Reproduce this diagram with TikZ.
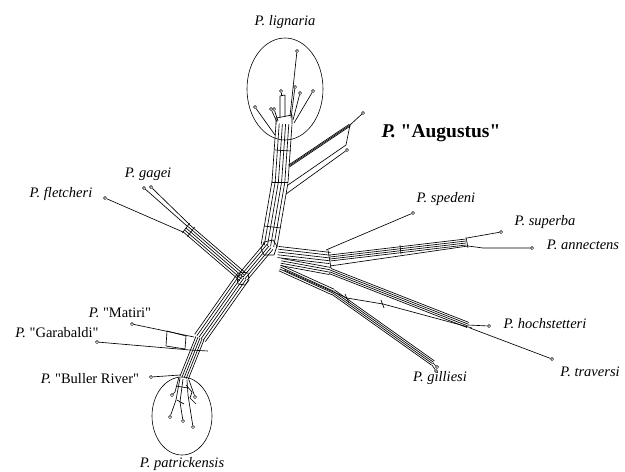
\documentclass[tikz,border=0pt]{standalone}
\usepackage{fontspec}
\setmainfont{Liberation Serif}
\usepackage{tikz}
\usetikzlibrary{calc,shapes.geometric}

% parallel strands between two named points: from, to, count, gap (pt)
\newcommand{\strands}[4]{%
  \foreach \k in {1,...,#3}{%
    \pgfmathsetmacro{\off}{(\k-(#3+1)/2)*#4}%
    \draw[net] ($(#1)!\off pt!90:(#2)$) -- ($(#2)!\off pt!-90:(#1)$);
  }}
\newcommand{\qq}{\textquotedbl}

\begin{document}
\begin{tikzpicture}[x=1pt,y=-1pt,
    net/.style={line width=0.65pt,line join=round},
    tip/.style={circle,draw,fill=white,inner sep=0pt,minimum size=3.2pt,line width=0.5pt},
    lab/.style={font=\fontsize{14.5}{16}\selectfont},
    clade/.style={draw,ellipse,line width=0.6pt,inner sep=0pt}
  ]
  \useasboundingbox (0,0) rectangle (625,472);

  % clade outlines
  \node[clade,minimum width=76pt,minimum height=102pt] (ligring) at (285,89) {};
  \node[clade,minimum width=60pt,minimum height=78pt] (patring) at (182,416) {};

  % junctions
  \coordinate (hubA) at (269,246);
  \coordinate (hubB) at (243,277);
  \coordinate (trunkMid) at (280,182);
  \coordinate (trunkTop) at (284,124);
  \coordinate (a1) at (289,166);
  \coordinate (a3) at (350,125);
  \coordinate (a4) at (346,145);
  \coordinate (fbox) at (186,228);
  \coordinate (mj) at (200,338);
  \coordinate (bj) at (184,378);
  \coordinate (r0) at (278,252);
  \coordinate (r1) at (330,258);
  \coordinate (r2) at (466,242);
  \coordinate (h0) at (281,262);
  \coordinate (h1) at (330,271);
  \coordinate (h2) at (468,325);
  \coordinate (g0) at (280,268);
  \coordinate (g1) at (333,292);
  \coordinate (g2) at (433,363);

  % tips
  \node[tip] (lg1) at (297,51) {};
  \node[tip] (lg2) at (281,91) {};
  \node[tip] (lg3) at (295,87) {};
  \node[tip] (lg4) at (300,93) {};
  \node[tip] (lg5) at (313,91) {};
  \node[tip] (lg6) at (255,107) {};
  \node[tip] (lg7) at (271,109) {};
  \node[tip] (lg8) at (274,109) {};
  \node[tip] (au1) at (363,113) {};
  \node[tip] (au2) at (347,150) {};
  \node[tip] (sp) at (413,213) {};
  \node[tip] (su) at (501,232) {};
  \node[tip] (an) at (532,248) {};
  \node[tip] (ho) at (489,326) {};
  \node[tip] (tr) at (552,359) {};
  \node[tip] (gl1) at (437,367) {};
  \node[tip] (gl2) at (436,371) {};
  \node[tip] (fl) at (105,198) {};
  \node[tip] (ga1) at (144,188) {};
  \node[tip] (ga2) at (151,187) {};
  \node[tip] (mt) at (132,324) {};
  \node[tip] (gb) at (97,342) {};
  \node[tip] (br) at (151,377) {};
  \node[tip] (pt1) at (172,395) {};
  \node[tip] (pt2) at (195,397) {};
  \node[tip] (pt3) at (170,417) {};
  \node[tip] (pt4) at (183,421) {};
  \node[tip] (pt5) at (193,427) {};

  % labels
  \node[lab] (lignaria) at (285,22) {\textit{P. lignaria}};
  \node[font=\fontsize{19.5}{22}\selectfont\bfseries] (augustus) at (441,133) {\textit{P.} \qq Augustus\qq};
  \node[lab] (spedeni) at (446,199) {\textit{P. spedeni}};
  \node[lab] (superba) at (545,222) {\textit{P. superba}};
  \node[lab] (annectens) at (583,245) {\textit{P. annectens}};
  \node[lab] (hochstetteri) at (545,324) {\textit{P. hochstetteri}};
  \node[lab] (traversi) at (590,372) {\textit{P. traversi}};
  \node[lab] (gilliesi) at (440,378) {\textit{P. gilliesi}};
  \node[lab] (gagei) at (148,174) {\textit{P. gagei}};
  \node[lab] (fletcheri) at (61,194) {\textit{P. fletcheri}};
  \node[lab] (matiri) at (120,313) {\textit{P.} \qq Matiri\qq};
  \node[lab] (garabaldi) at (57,333) {\textit{P.} \qq Garabaldi\qq};
  \node[lab] (buller) at (90,379) {\textit{P.} \qq Buller River\qq};
  \node[lab] (patrickensis) at (182,464) {\textit{P. patrickensis}};

  % centre
  \draw[net] (261,249) -- (264,242) -- (273,240) -- (277,246) -- (274,255) -- (264,255) -- cycle;
  \draw[net] (237,277) -- (241,272) -- (248,273) -- (249,280) -- (245,285) -- (238,284) -- cycle;
  \strands{hubA}{hubB}{5}{2.6}

  % upper trunk and lignaria
  \strands{hubA}{trunkMid}{6}{3.2}
  \strands{trunkMid}{trunkTop}{6}{3.2}
  \draw[net] (272,182) -- (288,182);
  \draw[net] (275,150) -- (291,151);
  \draw[net] (264,226) -- (281,228);
  \draw[net] (276,124) -- (276,118) -- (292,115) -- (292,124);
  \draw[net] (280,118) -- (280,96) -- (285,95) -- (285,117);
  \draw[net] (281,96) -- (lg2);
  \draw[net] (290,116) -- (lg1);
  \draw[net] (291,118) -- (lg3);
  \draw[net] (293,120) -- (lg4);
  \draw[net] (294,123) -- (lg5);
  \draw[net] (275,135) -- (lg6);
  \draw[net] (277,122) -- (lg7);
  \draw[net] (278,121) -- (lg8);

  % Augustus
  \strands{a1}{a3}{3}{1}
  \draw[net] (a3) -- (a4);
  \draw[net] (288,185) -- (a4);
  \draw[net] (286,194) -- (au2);
  \draw[net] (a3) -- (au1);

  % gagei and fletcheri
  \strands{hubB}{fbox}{5}{2.4}
  \draw[net] (182.4,232.8) -- (189.6,223.2);
  \draw[net] (187.4,236.6) -- (194.6,227);
  \draw[net] (189,224) -- (ga2);
  \draw[net] (187,226) -- (ga1);
  \draw[net] (183,232) -- (fl);

  % lower left trunk
  \strands{hubB}{mj}{6}{2.6}
  \strands{mj}{bj}{5}{2.2}
  \draw[net] (167,331) -- (186,336) -- (185,349) -- (166,346) -- cycle;
  \draw[net] (mt) -- (194,337);
  \draw[net] (gb) -- (190,350) -- (208,351);
  \draw[net] (br) -- (180,375);

  % patrickensis
  \draw[net] (179,377) -- (175,392) -- (pt1);
  \draw[net] (180,378) -- (176,400) -- (pt3);
  \draw[net] (183,379) -- (180,402) -- (pt4);
  \draw[net] (187,380) -- (188,395) -- (pt5);
  \draw[net] (189,380) -- (pt2);
  \draw[net] (186,385) -- (192,392) -- (190,398) -- (196,404);
  \draw[net] (176,386) -- (188,388);
  \draw[net] (177,400) -- (184,404) -- (180,402);

  % spedeni, superba, annectens
  \strands{r0}{r1}{5}{2.8}
  \strands{r1}{r2}{4}{2.0}
  \draw[net] (330,266) -- (468,246) -- (483,248) -- (an);
  \draw[net] (467,238) -- (su);
  \draw[net] (326,250) -- (sp);
  \draw[net] (328,250) -- (331,268);
  \draw[net] (466,237) -- (468,248);
  \draw[net] (400,245) -- (401,254);

  % hochstetteri and traversi
  \strands{h0}{h1}{4}{2.4}
  \strands{h1}{h2}{4}{1.8}
  \draw[net] (h2) -- (ho);
  \draw[net] (470,328) -- (tr);
  \draw[net] (284,270) -- (347,298) -- (383,304) -- (472,328);
  \draw[net] (345,294) -- (349,303);
  \draw[net] (381,300) -- (384,308);

  % gilliesi
  \strands{g0}{g1}{4}{2.0}
  \strands{g1}{g2}{4}{1.7}
  \draw[net] (g2) -- (gl1);
  \draw[net] (432,365) -- (gl2);
\end{tikzpicture}
\end{document}
